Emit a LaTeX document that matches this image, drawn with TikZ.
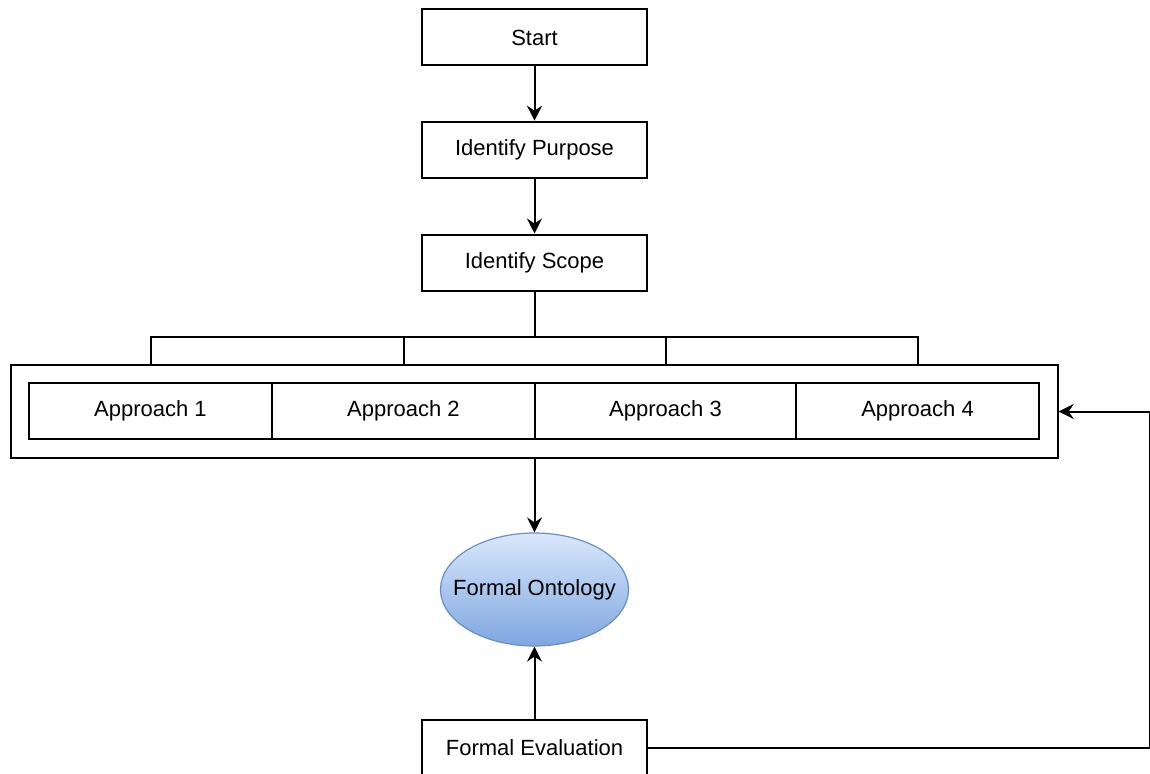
\documentclass[tikz,border=0pt]{standalone}
\usepackage{fontspec}
\setmainfont{Liberation Sans}
\usetikzlibrary{arrows.meta,shapes.geometric}
\definecolor{ontoTop}{HTML}{DAE8FC}
\definecolor{ontoBot}{HTML}{7EA6E0}
\definecolor{ontoLine}{HTML}{6C8EBF}
\begin{document}
\begin{tikzpicture}[x=1pt,y=-1pt,
  every node/.style={font=\fontsize{22}{26}\selectfont, inner sep=0pt},
  stepbox/.style={draw, line width=2pt, minimum width=225pt, minimum height=56pt},
  cell/.style={draw, line width=2pt, minimum height=56pt},
  link/.style={line width=2pt},
  arr/.style={line width=2pt, -{Stealth[length=15pt,width=15pt,inset=5pt]}}]
  \useasboundingbox (0,0) rectangle (1150,773);

  % main chain
  \node[stepbox] (start)   at (534.5,37.5)  {Start};
  \node[stepbox] (purpose) at (534.5,149.7) {Identify Purpose};
  \node[stepbox] (scope)   at (534.5,262.5) {Identify Scope};

  % approaches, framed together
  \node[draw, line width=2pt, minimum width=1047pt, minimum height=93pt] (outer) at (534.2,411.5) {};
  \node[cell, minimum width=243pt] (a1) at (150.5,411.3) {Approach 1};
  \node[cell, minimum width=263pt] (a2) at (403.5,411.3) {Approach 2};
  \node[cell, minimum width=261pt] (a3) at (665.5,411.3) {Approach 3};
  \node[cell, minimum width=243pt] (a4) at (917.5,411.3) {Approach 4};

  % result and evaluation
  \node[ellipse, draw=ontoLine, line width=1.2pt, top color=ontoTop, bottom color=ontoBot,
        minimum width=188pt, minimum height=113pt,
        label={center:Formal Ontology}] (onto) at (534.5,589.5) {};
  \node[stepbox] (eval) at (534.5,748) {Formal Evaluation};

  \draw[arr] (start) -- (purpose);
  \draw[arr] (purpose) -- (scope);

  % bracket fanning out to the four approaches
  \coordinate (fork) at (534.5,337);
  \draw[link] (scope.south) -- (fork);
  \draw[link] (a1.center |- outer.north) -- (a1.center |- fork) -- (a4.center |- fork) -- (a4.center |- outer.north);
  \draw[link] (a2.center |- fork) -- (a2.center |- outer.north);
  \draw[link] (a3.center |- fork) -- (a3.center |- outer.north);

  \draw[arr] (outer.south -| onto.north) -- (onto.north);
  \draw[arr] (eval.north) -- (onto.south);

  % feedback loop
  \coordinate (loopx) at (1149.5,0);
  \draw[arr] (eval.east) -- (eval.east -| loopx) -- (outer.east -| loopx) -- (outer.east);
\end{tikzpicture}
\end{document}
